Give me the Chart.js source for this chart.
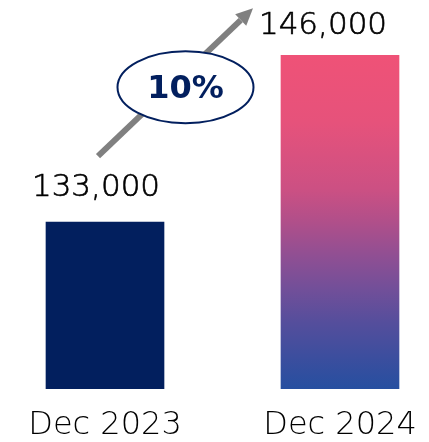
<!DOCTYPE html>
<html>
<head>
<meta charset="utf-8">
<script src="https://cdn.jsdelivr.net/npm/chart.js@4.4.1/dist/chart.umd.min.js"></script>
<style>
  html, body { margin: 0; padding: 0; background: #ffffff; }
  #wrap { width: 429px; height: 442px; position: relative; }
</style>
</head>
<body>
<div id="wrap"><canvas id="c"></canvas></div>
<script>
// Headcount at two year-end snapshots
const categories = ['Dec 2023', 'Dec 2024'];
const headcount = [133000, 146000];
const growthLabel = '10%';
const axisFloor = 120000;
const axisCeiling = 150000;

const NAVY = '#021f5e';
const FONT = '"DejaVu Sans", sans-serif';

// Vertical pink-to-blue fill for the second bar
function barFill(ctx) {
  if (ctx.dataIndex === 0) return NAVY;
  const chart = ctx.chart;
  const area = chart.chartArea;
  if (!area) return '#c0508a';
  const top = chart.scales.y.getPixelForValue(headcount[1]);
  const g = chart.ctx.createLinearGradient(0, top, 0, area.bottom);
  g.addColorStop(0, '#ef5277');
  g.addColorStop(0.2, '#e6527b');
  g.addColorStop(0.4, '#cc5083');
  g.addColorStop(0.5, '#b04f8a');
  g.addColorStop(0.6, '#904f93');
  g.addColorStop(0.7, '#724f99');
  g.addColorStop(0.8, '#554e9c');
  g.addColorStop(0.9, '#3d4e9e');
  g.addColorStop(1, '#264fa0');
  return g;
}

// Value labels, growth arrow and the ellipse badge
const annotations = {
  id: 'annotations',
  afterDatasetsDraw(chart, args, opts) {
    const ctx = chart.ctx;
    const bars = chart.getDatasetMeta(0).data;
    const ds = chart.data.datasets[0].data;

    ctx.save();
    ctx.fillStyle = '#000000';
    ctx.strokeStyle = '#000000';
    ctx.lineWidth = 0.6;
    ctx.font = '300 31px ' + FONT;
    ctx.textAlign = 'center';
    ctx.textBaseline = 'alphabetic';
    bars.forEach((bar, i) => {
      const off = opts.labelOffsets[i];
      const txt = ds[i].toLocaleString('en-US');
      ctx.fillText(txt, bar.x + off.dx, bar.y + off.dy);
      ctx.strokeText(txt, bar.x + off.dx, bar.y + off.dy);
    });

    // arrow from the first value towards the second
    const a0 = { x: bars[0].x + opts.arrowStart.dx, y: bars[0].y + opts.arrowStart.dy };
    const a1 = { x: bars[1].x + opts.arrowEnd.dx, y: bars[1].y + opts.arrowEnd.dy };
    const ang = Math.atan2(a1.y - a0.y, a1.x - a0.x);
    const headLen = 17, headW = 8;
    const bx = a1.x - headLen * Math.cos(ang), by = a1.y - headLen * Math.sin(ang);
    ctx.strokeStyle = '#808080';
    ctx.fillStyle = '#808080';
    ctx.lineWidth = 6;
    ctx.lineCap = 'butt';
    ctx.beginPath();
    ctx.moveTo(a0.x, a0.y);
    ctx.lineTo(bx, by);
    ctx.stroke();
    ctx.beginPath();
    ctx.moveTo(a1.x, a1.y);
    ctx.lineTo(bx + headW * Math.sin(ang), by - headW * Math.cos(ang));
    ctx.lineTo(bx - headW * Math.sin(ang), by + headW * Math.cos(ang));
    ctx.closePath();
    ctx.fill();

    // growth badge
    const cx = (a0.x + a1.x) / 2 + opts.badge.dx;
    const cy = (a0.y + a1.y) / 2 + opts.badge.dy;
    ctx.beginPath();
    ctx.ellipse(cx, cy, opts.badge.rx, opts.badge.ry, 0, 0, Math.PI * 2);
    ctx.fillStyle = '#ffffff';
    ctx.fill();
    ctx.lineWidth = 2;
    ctx.strokeStyle = NAVY;
    ctx.stroke();
    ctx.fillStyle = NAVY;
    ctx.font = 'bold 32px ' + FONT;
    ctx.textBaseline = 'middle';
    ctx.fillText(growthLabel, cx, cy + 2);
    ctx.restore();
  }
};

new Chart(document.getElementById('c'), {
  type: 'bar',
  data: {
    labels: categories,
    datasets: [{
      data: headcount,
      base: axisFloor,
      backgroundColor: barFill,
      barThickness: 118,
      borderWidth: 0,
      clip: { left: false, right: false, top: 0, bottom: 0 }
    }]
  },
  options: {
    responsive: true,
    maintainAspectRatio: false,
    animation: false,
    layout: { padding: { left: 105, right: 89, top: 4, bottom: 0 } },
    plugins: {
      legend: { display: false },
      tooltip: { enabled: false },
      annotations: {
        labelOffsets: [{ dx: -9, dy: -26 }, { dx: -17, dy: -21 }],
        arrowStart: { dx: -7, dy: -66 },
        arrowEnd: { dx: -87, dy: -47 },
        badge: { dx: 10, dy: 5, rx: 68, ry: 36 }
      }
    },
    scales: {
      x: {
        offset: false,
        grid: { display: false, drawTicks: false },
        border: { display: false },
        afterFit(scale) {
          // fixed band for the category labels; bars may overhang the plot edges
          scale.height = 53;
          scale.paddingLeft = 0;
          scale.paddingRight = 0;
        },
        ticks: {
          autoSkip: false,
          maxRotation: 0,
          minRotation: 0,
          padding: 21,
          color: '#000000',
          font: { family: FONT, size: 32, weight: '300', lineHeight: 1.0 }
        }
      },
      y: {
        display: false,
        min: axisFloor,
        max: axisCeiling
      }
    }
  },
  plugins: [annotations]
});
</script>
</body>
</html>
